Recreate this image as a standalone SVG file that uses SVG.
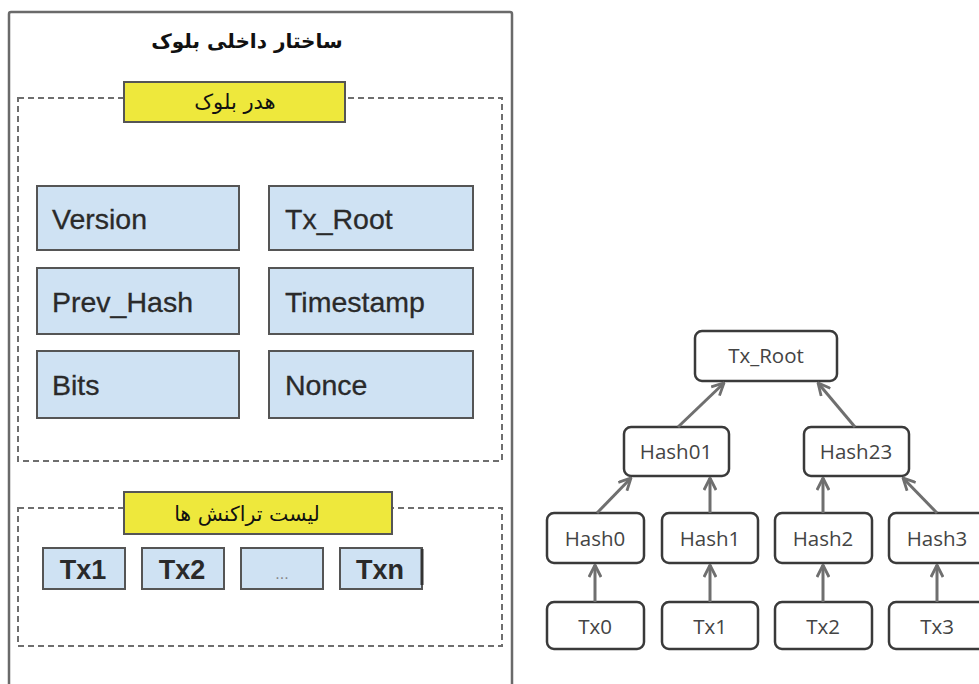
<svg xmlns="http://www.w3.org/2000/svg" width="979" height="684" viewBox="0 0 979 684">
  <style>
    .frame { fill: #ffffff; stroke: #6a6a6a; stroke-width: 2.5; }
    .dash { fill: none; stroke: #6e6e6e; stroke-width: 2; stroke-dasharray: 6 4; }
    .tag { fill: #eee83c; stroke: #555; stroke-width: 2; }
    .field { fill: #cfe2f3; stroke: #555; stroke-width: 2; }
    .fa { font-family: "DejaVu Sans", sans-serif; fill: #111; text-anchor: middle; }
    .lbl { font-family: "Liberation Sans", Arial, sans-serif; font-size: 28.5px; fill: #2a2a2a; stroke: #2a2a2a; stroke-width: 0.3; }
    .txl { font-family: "Liberation Sans", Arial, sans-serif; font-size: 27px; font-weight: bold; fill: #2a2a2a; text-anchor: middle; }
    .node { fill: #ffffff; stroke: #3a3a3a; stroke-width: 2.5; }
    .nt { font-family: "Open Sans", "Liberation Sans", sans-serif; font-size: 20.5px; fill: #444; text-anchor: middle; }
    .edge { stroke: #6f6f6f; stroke-width: 3; fill: none; marker-end: url(#chev); }
  </style>
  <defs>
    <marker id="chev" viewBox="0 0 14 14" refX="13" refY="7" markerWidth="14" markerHeight="14" markerUnits="userSpaceOnUse" orient="auto">
      <path d="M1,1 L13,7 L1,13" fill="none" stroke="#6f6f6f" stroke-width="2.8"/>
    </marker>
  </defs>

  <!-- block structure panel -->
  <g id="block">
    <rect class="frame" x="9" y="12" width="503" height="690" rx="2"/>
    <text class="fa" x="247" y="48" font-size="20" font-weight="bold">ساختار داخلی بلوک</text>
  </g>

  <!-- header section -->
  <g id="header">
    <rect class="dash" x="18" y="98" width="484" height="363"/>
    <rect class="tag" x="124" y="82" width="221" height="40"/>
    <text class="fa" x="235" y="109" font-size="21">هدر بلوک</text>
  </g>

  <g id="version">
    <rect class="field" x="37" y="186" width="202" height="64"/>
    <text class="lbl" x="52" y="229">Version</text>
  </g>
  <g id="txroot-field">
    <rect class="field" x="269" y="186" width="204" height="64"/>
    <text class="lbl" x="285" y="229">Tx_Root</text>
  </g>
  <g id="prevhash">
    <rect class="field" x="37" y="268" width="202" height="66"/>
    <text class="lbl" x="52" y="312">Prev_Hash</text>
  </g>
  <g id="timestamp">
    <rect class="field" x="269" y="268" width="204" height="66"/>
    <text class="lbl" x="285" y="312">Timestamp</text>
  </g>
  <g id="bits">
    <rect class="field" x="37" y="351" width="202" height="67"/>
    <text class="lbl" x="52" y="395">Bits</text>
  </g>
  <g id="nonce">
    <rect class="field" x="269" y="351" width="204" height="67"/>
    <text class="lbl" x="285" y="395">Nonce</text>
  </g>

  <!-- transaction list section -->
  <g id="txlist">
    <rect class="dash" x="18" y="508" width="484" height="138"/>
    <rect class="tag" x="124" y="492" width="268" height="42"/>
    <text class="fa" x="247" y="521" font-size="20.5">لیست تراکنش ها</text>
  </g>
  <g id="tx1">
    <rect class="field" x="43" y="548" width="82" height="41"/>
    <text class="txl" x="83" y="579">Tx1</text>
  </g>
  <g id="tx2">
    <rect class="field" x="142" y="548" width="82" height="41"/>
    <text class="txl" x="182" y="579">Tx2</text>
  </g>
  <g id="txdots">
    <rect class="field" x="241" y="548" width="82" height="41"/>
    <text x="282" y="579" font-family="Liberation Sans, sans-serif" font-size="16" fill="#888" text-anchor="middle">...</text>
  </g>
  <g id="txn">
    <rect class="field" x="340" y="548" width="82" height="41"/>
    <line x1="422" y1="549" x2="422" y2="585" stroke="#333" stroke-width="3"/>
    <text class="txl" x="380" y="579">Txn</text>
  </g>

  <!-- merkle tree -->
  <g id="m-root">
    <rect class="node" x="695" y="331" width="142" height="50" rx="7"/>
    <text class="nt" x="766" y="363">Tx_Root</text>
  </g>
  <g id="m-hash01">
    <rect class="node" x="624" y="427" width="105" height="49" rx="7"/>
    <text class="nt" x="676" y="459">Hash01</text>
  </g>
  <g id="m-hash23">
    <rect class="node" x="804" y="427" width="105" height="49" rx="7"/>
    <text class="nt" x="856" y="459">Hash23</text>
  </g>
  <g id="m-hash0">
    <rect class="node" x="547" y="513" width="97" height="50" rx="7"/>
    <text class="nt" x="595" y="546">Hash0</text>
  </g>
  <g id="m-hash1">
    <rect class="node" x="662" y="513" width="96" height="50" rx="7"/>
    <text class="nt" x="710" y="546">Hash1</text>
  </g>
  <g id="m-hash2">
    <rect class="node" x="775" y="513" width="97" height="50" rx="7"/>
    <text class="nt" x="823" y="546">Hash2</text>
  </g>
  <g id="m-hash3">
    <rect class="node" x="889" y="513" width="98" height="50" rx="7"/>
    <text class="nt" x="937" y="546">Hash3</text>
  </g>
  <g id="m-tx0">
    <rect class="node" x="547" y="602" width="97" height="47" rx="7"/>
    <text class="nt" x="595" y="634">Tx0</text>
  </g>
  <g id="m-tx1">
    <rect class="node" x="662" y="602" width="96" height="47" rx="7"/>
    <text class="nt" x="710" y="634">Tx1</text>
  </g>
  <g id="m-tx2">
    <rect class="node" x="775" y="602" width="97" height="47" rx="7"/>
    <text class="nt" x="823" y="634">Tx2</text>
  </g>
  <g id="m-tx3">
    <rect class="node" x="889" y="602" width="98" height="47" rx="7"/>
    <text class="nt" x="937" y="634">Tx3</text>
  </g>

  <g id="connectors">
    <line class="edge" x1="595" y1="602" x2="595" y2="565"/>
    <line class="edge" x1="710" y1="602" x2="710" y2="565"/>
    <line class="edge" x1="823" y1="602" x2="823" y2="565"/>
    <line class="edge" x1="937" y1="602" x2="937" y2="565"/>
    <line class="edge" x1="597" y1="513" x2="631" y2="478"/>
    <line class="edge" x1="710" y1="513" x2="710" y2="478"/>
    <line class="edge" x1="823" y1="513" x2="823" y2="478"/>
    <line class="edge" x1="937" y1="513" x2="903" y2="478"/>
    <line class="edge" x1="678" y1="427" x2="724" y2="383"/>
    <line class="edge" x1="855" y1="427" x2="818" y2="383"/>
  </g>
</svg>
